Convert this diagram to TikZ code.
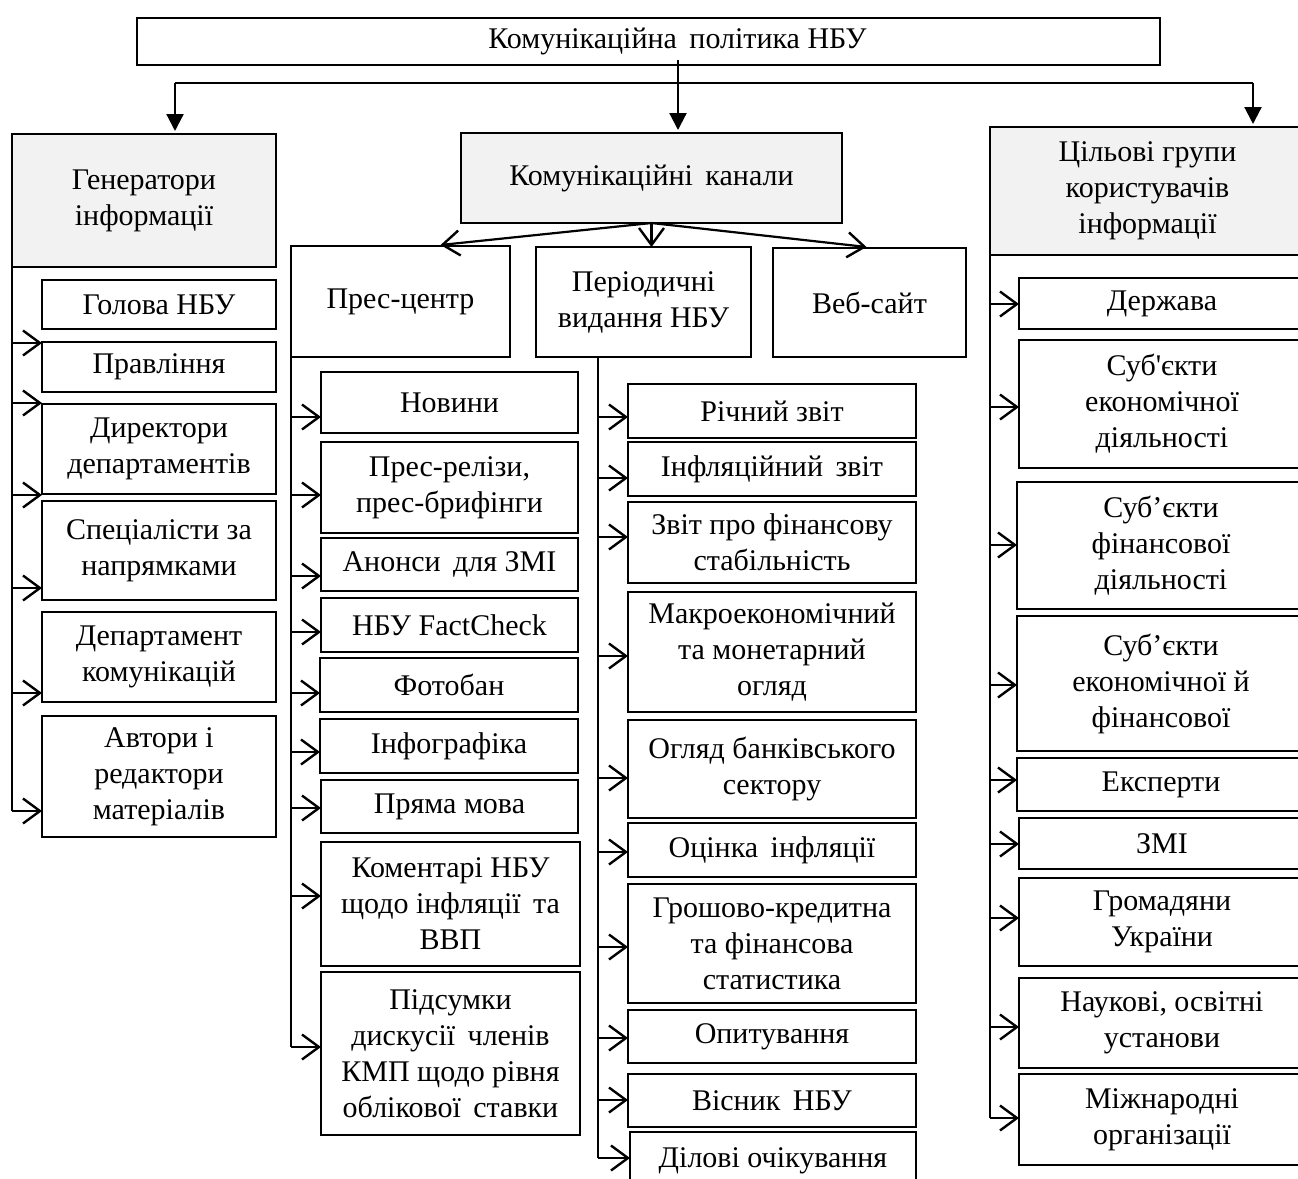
\documentclass[tikz,border=0pt]{standalone}
\usepackage{fontspec}
\setmainfont{Liberation Serif}
\usetikzlibrary{arrows.meta}
\definecolor{hdr}{HTML}{F2F2F2}
\tikzset{
  bx/.style={draw, line width=2.8pt, inner sep=0pt, outer sep=0pt, align=center,
    font=\fontsize{30pt}{36pt}\selectfont},
  gbx/.style={bx, fill=hdr},
  ln/.style={line width=2.2pt},
  varr/.style={ln, -{Straight Barb[length=17pt,width=25pt,line width=2.4pt]}},
  tarr/.style={ln, -{Triangle[length=17pt,width=17pt]}, shorten >=3pt},
}
\newcommand\mybox[7][]{\node[bx,#1, minimum width={(#5-#3)*1pt}, minimum height={(#6-#4)*1pt}] (#2) at ({(#3+#5)/2},{(#4+#6)/2}) {#7};}
\newcommand\harr[4]{\coordinate (#1) at (#3,#4); \draw[varr] (#1) -- (#1 -| #2.west);}
\begin{document}
\begin{tikzpicture}[x=1pt,y=-1pt]
\fill[white] (0,0) rectangle (1298,1178);
\useasboundingbox (0,0) rectangle (1298,1178);

% top level
\mybox{top}{137}{18}{1160}{65}{\hspace*{58pt}Комунікаційна\, політика НБУ}
\mybox[gbx]{gen}{12}{134}{276}{267}{Генератори\\інформації}
\mybox[gbx]{kk}{461}{133}{842}{223}{Комунікаційні\, канали}
\mybox[gbx]{cg}{990}{127}{1305}{255}{Цільові групи\\користувачів\\інформації}

\coordinate (t0) at (678,60);
\draw[tarr] (t0) -- (t0 |- kk.north);
\coordinate (hl) at (175,83);
\coordinate (hr) at (1253,83);
\draw[ln] (hl) -- (hr);
\draw[tarr] (hl) -- (hl |- gen.north);
\draw[tarr] (hr) -- (hr |- cg.north);

% left column
\mybox{g1}{42}{280}{276}{329}{Голова НБУ}
\mybox{g2}{42}{342}{276}{392}{Правління}
\mybox{g3}{42}{404}{276}{494}{Директори\\департаментів}
\mybox{g4}{42}{501}{276}{600}{Спеціалісти за\\напрямками}
\mybox{g5}{42}{612}{276}{702}{Департамент\\комунікацій}
\mybox{g6}{42}{716}{276}{837}{Автори і\\редактори\\матеріалів}
\harr{a1}{g2}{12}{343}
\harr{a2}{g3}{12}{403}
\harr{a3}{g3}{12}{495}
\harr{a4}{g4}{12}{588}
\harr{a5}{g5}{12}{693}
\harr{a6}{g6}{12}{811}
\draw[ln] ([yshift=57pt]gen.south west) -- (a6);

% channels
\mybox{pc}{291}{246}{510}{357}{Прес-центр}
\mybox{pv}{536}{247}{751}{357}{Періодичні\\видання НБУ}
\mybox{wb}{773}{248}{966}{357}{Веб-сайт}
\draw[varr] (kk.south) -- ([xshift=40pt,yshift=1pt]pc.north);
\draw[varr] (kk.south) -- (kk.south |- pv.north);
\draw[varr] (kk.south) -- ([xshift=-3pt,yshift=1pt]wb.north);

% press centre column
\mybox{p1}{321}{372}{578}{433}{Новини}
\mybox{p2}{321}{442}{578}{533}{Прес-релізи,\\прес-брифінги}
\mybox{p3}{321}{538}{578}{591}{Анонси\, для ЗМІ}
\mybox{p4}{321}{598}{578}{652}{НБУ FactCheck}
\mybox{p5}{320}{658}{578}{712}{Фотобан}
\mybox{p6}{320}{719}{578}{773}{Інфографіка}
\mybox{p7}{321}{780}{578}{833}{Пряма мова}
\mybox{p8}{321}{842}{580}{966}{Коментарі НБУ\\щодо інфляції\, та\\ВВП}
\mybox{p9}{321}{972}{580}{1135}{Підсумки\\дискусії\, членів\\КМП щодо рівня\\облікової\, ставки}
\harr{b1}{p1}{291}{417}
\harr{b2}{p2}{291}{495}
\harr{b3}{p3}{291}{576}
\harr{b4}{p4}{291}{632}
\harr{b5}{p5}{291}{693}
\harr{b6}{p6}{291}{752}
\harr{b7}{p7}{291}{808}
\harr{b8}{p8}{291}{896}
\harr{b9}{p9}{291}{1047}
\draw[ln] (pc.south west) -- (b9);

% periodicals column
\mybox{r1}{628}{384}{916}{438}{Річний звіт}
\mybox{r2}{628}{442}{916}{496}{Інфляційний\, звіт}
\mybox{r3}{628}{502}{916}{583}{Звіт про фінансову\\стабільність}
\mybox{r4}{628}{592}{916}{712}{Макроекономічний\\та монетарний\\огляд}
\mybox{r5}{628}{720}{916}{818}{Огляд банківського\\сектору}
\mybox{r6}{628}{823}{916}{877}{Оцінка\, інфляції}
\mybox{r7}{628}{884}{916}{1003}{Грошово-кредитна\\та фінансова\\статистика}
\mybox{r8}{628}{1010}{916}{1063}{Опитування}
\mybox{r9}{628}{1074}{916}{1127}{Вісник\, НБУ}
\mybox{r10}{630}{1132}{916}{1190}{Ділові очікування}
\harr{e1}{r1}{598}{417}
\harr{e2}{r2}{598}{478}
\harr{e3}{r3}{598}{537}
\harr{e4}{r4}{598}{656}
\harr{e5}{r5}{598}{778}
\harr{e6}{r6}{598}{852}
\harr{e7}{r7}{598}{947}
\harr{e8}{r8}{598}{1038}
\harr{e9}{r9}{598}{1100}
\harr{e10}{r10}{598}{1158}
\draw[ln] (e10 |- pv.south) -- (e10);

% target groups column
\mybox{c1}{1019}{278}{1305}{329}{Держава}
\mybox{c2}{1019}{340}{1305}{468}{Суб\textquotesingle єкти\\економічної\\діяльності}
\mybox{c3}{1017}{482}{1305}{609}{Суб’єкти\\фінансової\\діяльності}
\mybox{c4}{1017}{616}{1305}{751}{Суб’єкти\\економічної й\\фінансової}
\mybox{c5}{1017}{758}{1305}{811}{Експерти}
\mybox{c6}{1019}{818}{1305}{869}{ЗМІ}
\mybox{c7}{1019}{878}{1305}{966}{Громадяни\\України}
\mybox{c8}{1019}{978}{1305}{1068}{Наукові, освітні\\установи}
\mybox{c9}{1019}{1074}{1305}{1165}{Міжнародні\\організації}
\harr{d1}{c1}{990}{304}
\harr{d2}{c2}{990}{407}
\harr{d3}{c3}{990}{545}
\harr{d4}{c4}{990}{685}
\harr{d5}{c5}{990}{780}
\harr{d6}{c6}{990}{844}
\harr{d7}{c7}{990}{918}
\harr{d8}{c8}{990}{1027}
\harr{d9}{c9}{990}{1118}
\draw[ln] ([yshift=50pt]cg.south west) -- (d9);
\end{tikzpicture}
\end{document}
